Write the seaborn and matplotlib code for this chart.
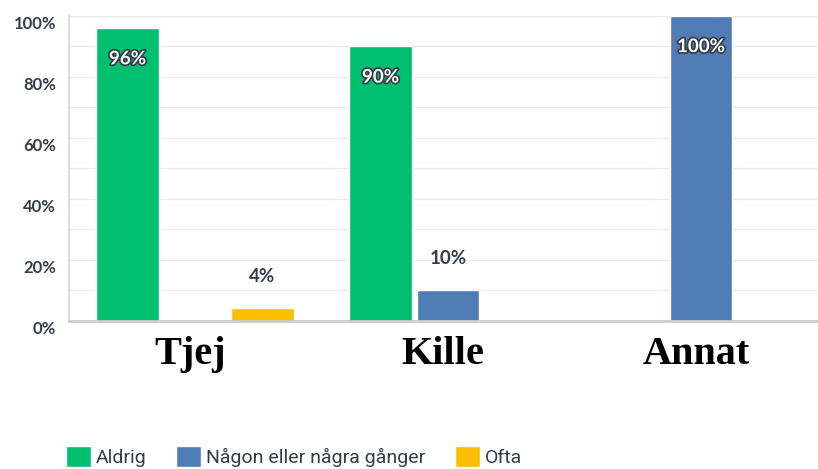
import matplotlib
matplotlib.use("Agg")
import matplotlib.pyplot as plt
import matplotlib.patheffects as pe
from matplotlib.transforms import ScaledTranslation
import pandas as pd
import seaborn as sns

categories = ["Tjej", "Kille", "Annat"]
series = ["Aldrig", "Någon eller några gånger", "Ofta"]
aldrig = [96, 90, 0]
nagon = [0, 10, 100]
ofta = [4, 0, 0]
colors = ["#00BF6F", "#507CB6", "#F9BE00"]
y_ticks = [0, 20, 40, 60, 80, 100]
y_minor = [10, 30, 50, 70, 90]

TEXT = "#333E48"
W, H = 818, 469

df = pd.DataFrame({
    "kategori": categories * 3,
    "svar": [s for s in series for _ in categories],
    "andel": aldrig + nagon + ofta,
})

sns.set_theme(style="white")
plt.rcParams["font.family"] = ["Lato", "DejaVu Sans"]

fig = plt.figure(figsize=(W / 100, H / 100), dpi=100)
# plot area: left edge at 68 px, 0% at y=321, 100% at y=15.6
ax = fig.add_axes([68.5 / W, 1 - 320.7 / H, 1 - 68.5 / W, (320.7 - 15.6) / H])

sns.barplot(data=df, x="kategori", y="andel", hue="svar", order=categories,
            hue_order=series, palette=colors, width=0.8, gap=0.08,
            saturation=1, ax=ax)

ax.set_xlim(-0.5, -0.5 + (W - 68.5) / 253)
ax.set_ylim(0, 100)
ax.set_xlabel("")
ax.set_ylabel("")

# grid every 10 %, labels every 20 %
ax.set_yticks(y_ticks)
ax.set_yticks(y_minor, minor=True)
ax.set_yticklabels([f"{v}%" for v in y_ticks], fontsize=12, weight="bold", color=TEXT)
ax.grid(True, which="both", axis="y", color="#EBEBEB", lw=1)
ax.set_axisbelow(True)
ax.tick_params(axis="y", which="both", length=0, pad=9)
for lab in ax.get_yticklabels():
    lab.set_transform(lab.get_transform() + ScaledTranslation(0, -7 / 100, fig.dpi_scale_trans))

ax.tick_params(axis="x", length=0, pad=11)
ax.set_xticklabels(categories, family="Liberation Serif", weight="bold",
                   fontsize=29, color="black")
for lab in ax.get_xticklabels():
    lab.set_transform(lab.get_transform() + ScaledTranslation(-5 / 100, 0, fig.dpi_scale_trans))

for side in ["top", "right"]:
    ax.spines[side].set_visible(False)
ax.spines["left"].set_color("#D6D6D6")
ax.spines["left"].set_linewidth(1.2)
ax.spines["bottom"].set_color("#CCCCCC")
ax.spines["bottom"].set_linewidth(2)

# value labels
for cont in ax.containers:
    for bar in cont:
        h = bar.get_height()
        if h <= 0:
            continue
        x = bar.get_x() + bar.get_width() / 2
        if h >= 50:
            ax.annotate(f"{h:.0f}%", (x, h), xytext=(0, -31), textcoords="offset pixels",
                        ha="center", va="center", color="white", fontsize=13.5,
                        weight="bold",
                        path_effects=[pe.withStroke(linewidth=2.5, foreground=TEXT)])
        else:
            ax.annotate(f"{h:.0f}%", (x, h), xytext=(0, 32), textcoords="offset pixels",
                        ha="center", va="center", color=TEXT, fontsize=13.5, weight="bold")

handles, labels = ax.get_legend_handles_labels()
ax.get_legend().remove()
leg = fig.legend(handles, labels, loc="lower left", bbox_to_anchor=(66 / W, 2 / H),
                 ncol=3, frameon=False, handlelength=1.28,
                 handleheight=1.28, handletextpad=0.27, columnspacing=1.5,
                 borderpad=0, borderaxespad=0,
                 prop={"family": ["Liberation Sans Narrow", "Roboto"], "size": 14})
for t in leg.get_texts():
    t.set_color(TEXT)

fig.savefig("out.png", dpi=100)
